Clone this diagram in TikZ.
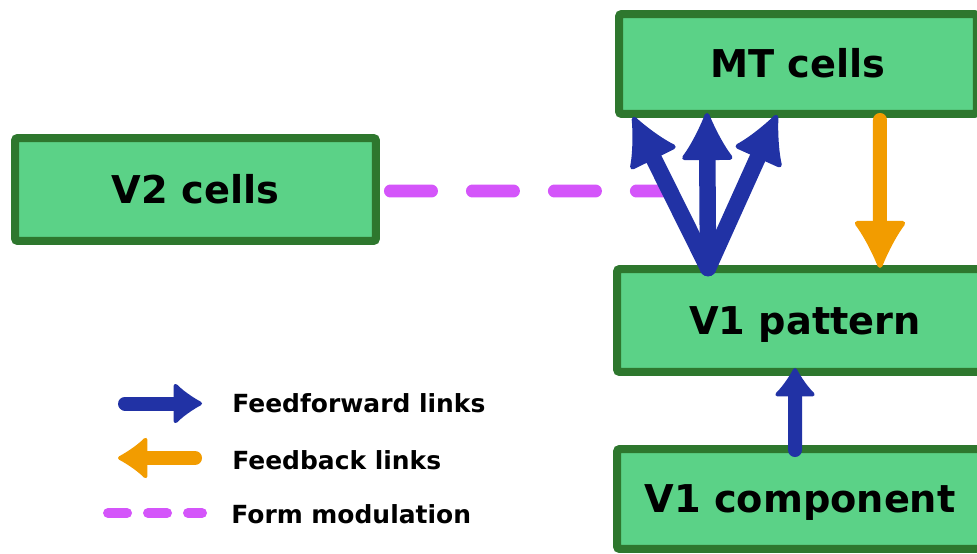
\documentclass[tikz,border=0pt]{standalone}
\usepackage{fontspec}
\setmainfont{DejaVu Sans}
\usetikzlibrary{arrows.meta}
\definecolor{boxfill}{HTML}{5BD287}
\definecolor{boxline}{HTML}{2E772E}
\definecolor{ffblue}{HTML}{2132A5}
\definecolor{fborange}{HTML}{F29C00}
\definecolor{modpink}{HTML}{D455FA}
\begin{document}
\begin{tikzpicture}[x=0.02cm, y=-0.02cm]
\tikzstyle{area}=[rectangle, draw=boxline, fill=boxfill, line width=0.16cm, rounded corners=1.5pt, minimum height=2cm, text height=15.9pt, text depth=0pt, font=\fontsize{21.8}{26}\selectfont\bfseries]
\tikzstyle{key}=[anchor=west, inner sep=0pt, font=\fontsize{14.2}{17}\selectfont\bfseries]
\tikzstyle{ffwd}=[draw=ffblue, line width=0.33cm, line cap=round, -{Latex[length=1.04cm, width=1.12cm, line width=0.1cm, round]}]
\tikzstyle{ffwdsmall}=[draw=ffblue, line width=0.28cm, line cap=round, -{Latex[length=0.62cm, width=0.92cm, line width=0.08cm, round]}]
\tikzstyle{fback}=[draw=fborange, line width=0.28cm, line cap=round, -{Latex[length=1.04cm, width=1.12cm, line width=0.1cm, round]}]
\tikzstyle{fbacksmall}=[draw=fborange, line width=0.28cm, line cap=round, -{Latex[length=0.64cm, width=0.94cm, line width=0.08cm, round]}]
\tikzstyle{formmod}=[draw=modpink, line width=0.26cm, line cap=round, dash pattern=on 0.82cm off 0.82cm]
\useasboundingbox (0,0) rectangle (977,554);
\clip (0,0) rectangle (977,554);
    \node [area, minimum width=7.16cm] (mt) at (798,64) {MT cells};
    \node [area, minimum width=7.22cm, minimum height=2.06cm] (v2) at (195.5,189.5) {V2 cells};
    \node [area, minimum width=7.52cm, minimum height=2.06cm] (pat) at (805,320.5) {V1 pattern};
    \node [area, minimum width=7.32cm] (comp) at (800,499) {V1 component};
    \coordinate (modend) at (668,191);
    \coordinate (fan) at ([xshift=1.9cm, yshift=-0.06cm]pat.north west);
    \draw [formmod] ([xshift=0.21cm, yshift=-0.03cm]v2.east) -- (modend);
    \draw [ffwd] (fan) -- ([xshift=0.36cm, yshift=0.02cm]mt.south west);
    \draw [ffwd] (fan) -- ([xshift=1.84cm, yshift=0.1cm]mt.south west);
    \draw [ffwd] (fan) -- ([xshift=3.24cm, yshift=0.06cm]mt.south west);
    \draw [fback] ([xshift=5.3cm, yshift=-0.04cm]mt.south west) -- ([xshift=5.34cm, yshift=-0.06cm]pat.north west);
    \draw [ffwdsmall] ([xshift=3.64cm, yshift=-0.1cm]comp.north west) -- ([xshift=3.64cm, yshift=0.16cm]pat.south west);
    \node [key] (ffl) at (232,403.5) {Feedforward links};
    \node [key] (fbl) at (232,460) {Feedback links};
    \node [key] (fml) at (231,514) {Form modulation};
    \draw [ffwdsmall] ([xshift=-2.14cm]ffl.west) -- ([xshift=-0.6cm]ffl.west);
    \draw [fbacksmall] ([xshift=-0.74cm, yshift=0.04cm]fbl.west) -- ([xshift=-2.28cm, yshift=0.04cm]fbl.west);
    \draw [formmod, line width=0.2cm, dash pattern=on 0.38cm off 0.42cm] ([xshift=-2.46cm, yshift=0.02cm]fml.west) -- ([xshift=-0.58cm, yshift=0.02cm]fml.west);
\end{tikzpicture}
\end{document}
